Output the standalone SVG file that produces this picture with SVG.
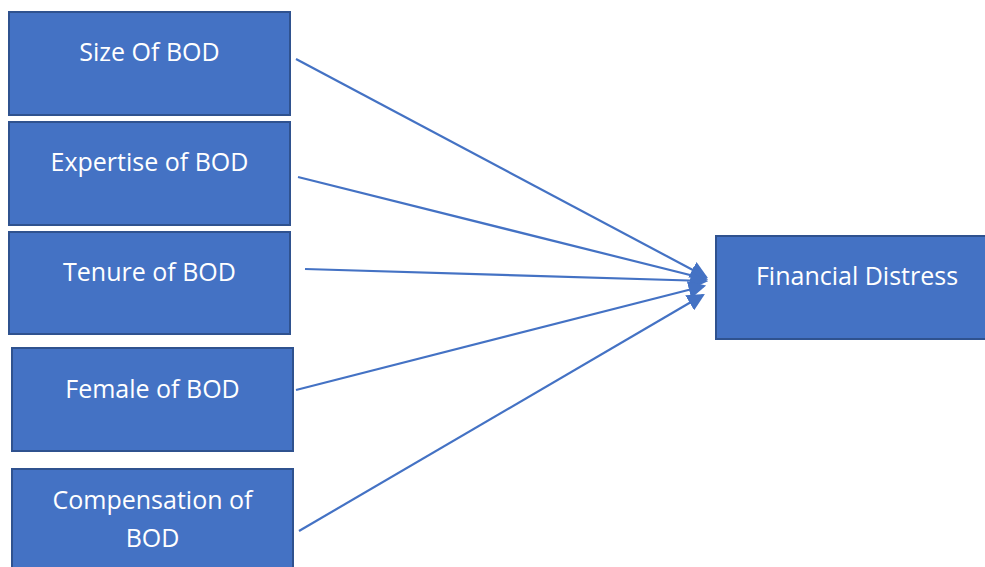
<svg xmlns="http://www.w3.org/2000/svg" width="985" height="567" viewBox="0 0 985 567">
<style>
.box{fill:#4472C4;stroke:#2F528F;stroke-width:2}
.lbl{fill:#ffffff;font-family:"Open Sans","Noto Sans",sans-serif;font-size:25px;text-anchor:middle}
.con{stroke:#4472C4;stroke-width:2.2;fill:none;marker-end:url(#ah)}
</style>
<defs>
<marker id="ah" markerWidth="8" markerHeight="8" refX="7" refY="4" orient="auto" markerUnits="strokeWidth">
<path d="M0,0 L8,4 L0,8 Z" fill="#4472C4"/>
</marker>
</defs>
<rect width="985" height="567" fill="#ffffff"/>
<g id="n1"><rect class="box" x="9" y="12" width="281" height="103"/><text class="lbl" x="149.5" y="61">Size Of BOD</text></g>
<g id="n2"><rect class="box" x="9" y="122" width="281" height="103"/><text class="lbl" x="149.5" y="171">Expertise of BOD</text></g>
<g id="n3"><rect class="box" x="9" y="232" width="281" height="102"/><text class="lbl" x="149.5" y="281">Tenure of BOD</text></g>
<g id="n4"><rect class="box" x="12" y="348" width="281" height="103"/><text class="lbl" x="152.5" y="398">Female of BOD</text></g>
<g id="n5"><rect class="box" x="12" y="469" width="281" height="110"/><text class="lbl" x="152.5" y="509">Compensation of</text><text class="lbl" x="152.5" y="547">BOD</text></g>
<g id="n6"><rect class="box" x="716" y="236" width="282" height="103"/><text class="lbl" x="857" y="285">Financial Distress</text></g>
<g id="connectors">
<line class="con" x1="296" y1="59" x2="706" y2="277"/>
<line class="con" x1="298" y1="177" x2="706" y2="279"/>
<line class="con" x1="305" y1="269" x2="706" y2="281"/>
<line class="con" x1="296" y1="390" x2="704" y2="286"/>
<line class="con" x1="299" y1="531" x2="703" y2="295"/>
</g>
</svg>
